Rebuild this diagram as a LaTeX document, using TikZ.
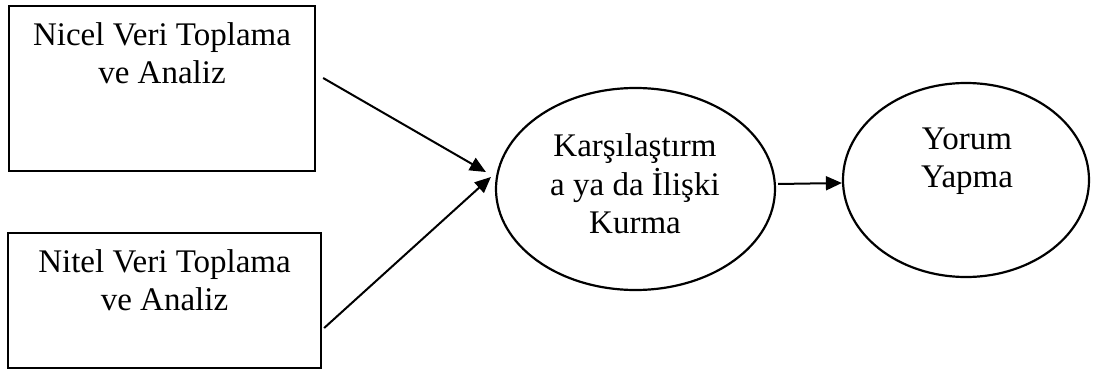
\documentclass[tikz,border=0pt]{standalone}
\usepackage{fontspec}
\setmainfont{Liberation Serif}
\usetikzlibrary{arrows.meta,shapes.geometric,calc}
\begin{document}
\begin{tikzpicture}[x=1pt,y=1pt,
  boxshape/.style={draw=black, line width=2.3pt, rectangle, inner sep=0pt},
  ellshape/.style={draw=black, line width=2.2pt, ellipse, inner sep=0pt},
  txt/.style={align=center, inner sep=0pt, anchor=north, font=\fontsize{33}{38.5}\selectfont},
  arr/.style={line width=2pt, -{Triangle[length=16pt,width=14pt]}}]
\useasboundingbox (0,0) rectangle (1096,-372);
% boxes
\node[boxshape, minimum width=306pt, minimum height=165pt] (b1) at (162,-88.5) {};
\node[txt] (t1) at ($(b1.north)+(0,-17.5)$) {Nicel Veri Toplama\\ve Analiz};
\node[boxshape, minimum width=313pt, minimum height=135pt] (b2) at (164.5,-300.5) {};
\node[txt] (t2) at ($(b2.north)+(0,-17.5)$) {Nitel Veri Toplama\\ve Analiz};
% ellipses
\node[ellshape, minimum width=279pt, minimum height=202pt] (e1) at (635.5,-189) {};
\node[txt] (t3) at (635,-133.5) {Karşılaştırm\\a ya da İlişki\\Kurma};
\node[ellshape, minimum width=246pt, minimum height=194pt] (e2) at (966,-180) {};
\node[txt] (t4) at (967,-127.2) {Yorum\\Yapma};
% connectors
\draw[arr] ($(b1.east)+(7,10.5)$) -- ($(e1.west)+(-9,17)$);
\draw[arr] ($(b2.east)+(2,-27.5)$) -- ($(e1.west)+(-4,12)$);
\draw[arr] ($(e1.east)+(2,5)$) -- ($(e2.west)+(0,-3)$);
\end{tikzpicture}
\end{document}
